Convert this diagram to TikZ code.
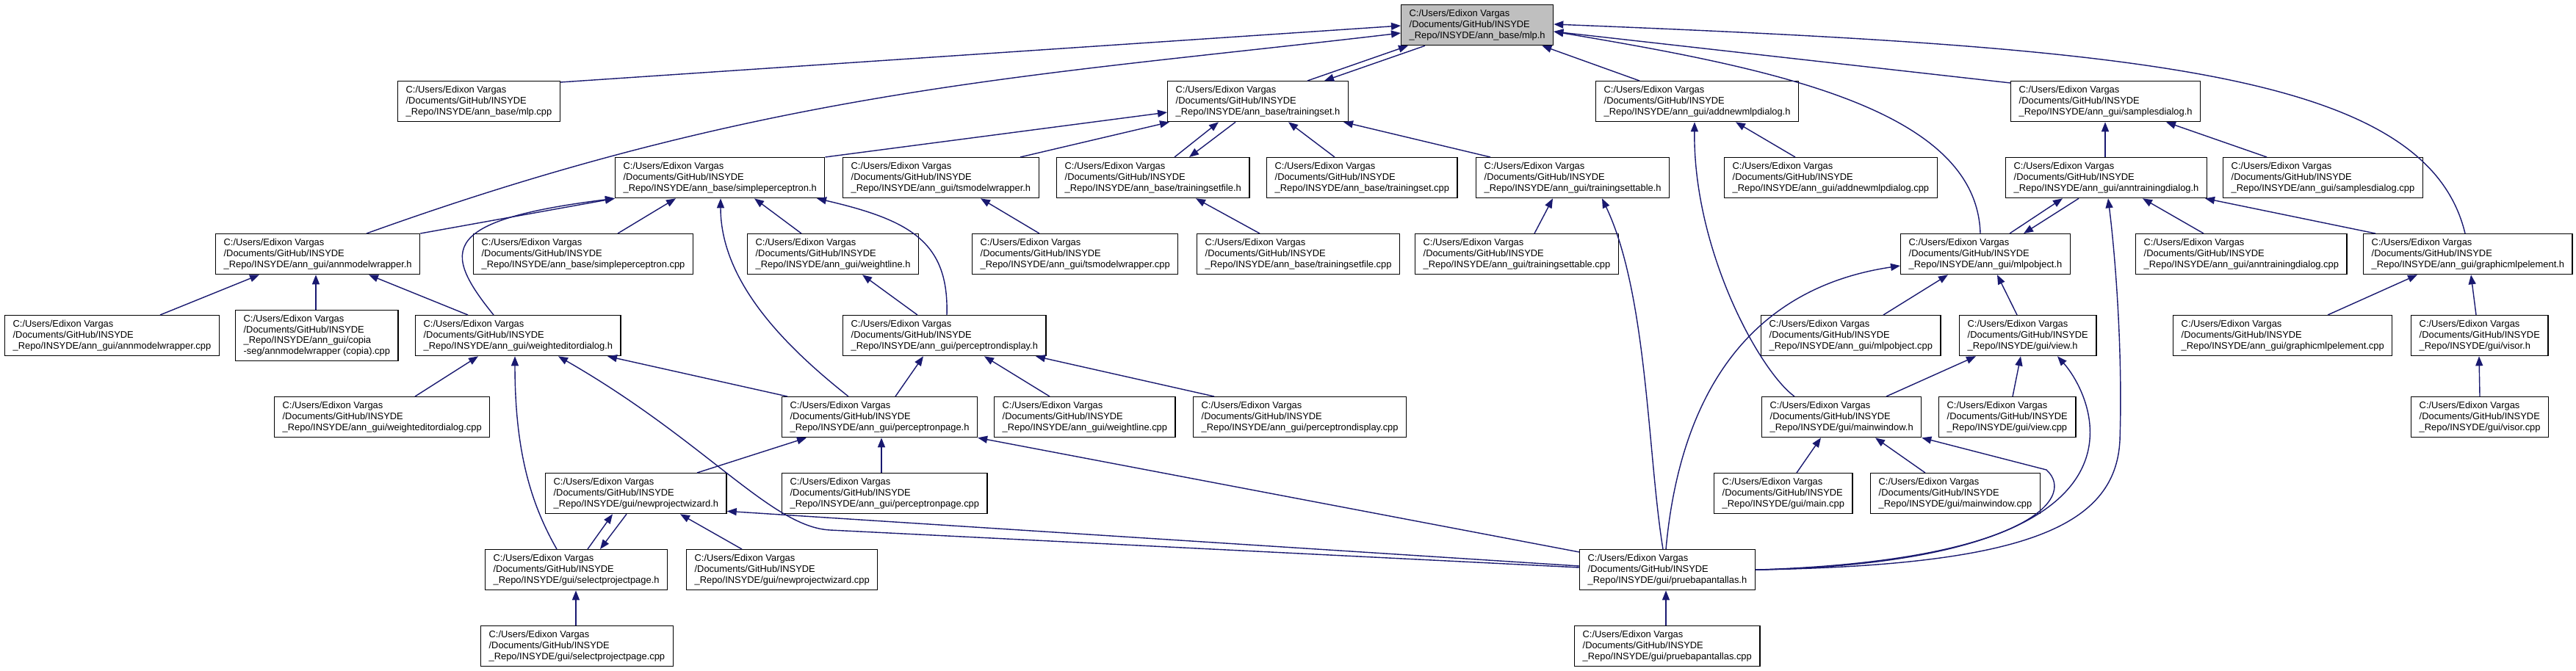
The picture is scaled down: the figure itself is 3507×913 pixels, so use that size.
\documentclass[tikz,border=0pt]{standalone}
\usepackage{fontspec}
\setmainfont{Liberation Sans}
\usetikzlibrary{arrows.meta}
\definecolor{edgec}{HTML}{191970}
\definecolor{nodegray}{HTML}{BFBFBF}
\newcommand\ipath{C:/Users/Edixon~Vargas\\/Documents/GitHub/INSYDE\\\_Repo/INSYDE/}
\newcommand\fnode[4][]{\node[fbox,#1] (#2) at (#3) {#4};}
\tikzset{
  fbox/.style={draw=black, line width=1.3pt, anchor=north west, align=left,
    inner xsep=11pt, inner ysep=0pt, minimum height=55pt, fill=white,
    font=\fontsize{12.9}{14.8}\selectfont, text=black},
  inc/.style={draw=edgec, line width=1.4pt, -{Triangle[length=13pt,width=10pt]}}
}
\begin{document}
\begin{tikzpicture}[x=1pt,y=-1pt]
\path[use as bounding box, fill=white] (0,0) rectangle (3507,913);
% row 0
\fnode[fill=nodegray]{mlph}{1907,6}{\ipath ann\_base/mlp.h}
% row 1
\fnode{mlpcpp}{541,110}{\ipath ann\_base/mlp.cpp}
\fnode{tseth}{1589,110}{\ipath ann\_base/trainingset.h}
\fnode{addnewh}{2172,110}{\ipath ann\_gui/addnewmlpdialog.h}
\fnode{samplesh}{2737,110}{\ipath ann\_gui/samplesdialog.h}
% row 2
\fnode{simplep}{837,214}{\ipath ann\_base/simpleperceptron.h}
\fnode{tsmwh}{1147,214}{\ipath ann\_gui/tsmodelwrapper.h}
\fnode{tsfileh}{1438,214}{\ipath ann\_base/trainingsetfile.h}
\fnode{tscpp}{1724,214}{\ipath ann\_base/trainingset.cpp}
\fnode{tstableh}{2009,214}{\ipath ann\_gui/trainingsettable.h}
\fnode{addnewcpp}{2347,214}{\ipath ann\_gui/addnewmlpdialog.cpp}
\fnode{anntrh}{2730,214}{\ipath ann\_gui/anntrainingdialog.h}
\fnode{samplescpp}{3026,214}{\ipath ann\_gui/samplesdialog.cpp}
% row 3
\fnode{annmwh}{293,318}{\ipath ann\_gui/annmodelwrapper.h}
\fnode{spcpp}{644,318}{\ipath ann\_base/simpleperceptron.cpp}
\fnode{wlineh}{1017,318}{\ipath ann\_gui/weightline.h}
\fnode{tsmwcpp}{1323,318}{\ipath ann\_gui/tsmodelwrapper.cpp}
\fnode{tsfilecpp}{1629,318}{\ipath ann\_base/trainingsetfile.cpp}
\fnode{tstablecpp}{1926,318}{\ipath ann\_gui/trainingsettable.cpp}
\fnode{mlpobjh}{2587,318}{\ipath ann\_gui/mlpobject.h}
\fnode{anntrcpp}{2907,318}{\ipath ann\_gui/anntrainingdialog.cpp}
\fnode{graphh}{3217,318}{\ipath ann\_gui/graphicmlpelement.h}
% row 4
\fnode{annmwcpp}{6,429}{\ipath ann\_gui/annmodelwrapper.cpp}
\fnode[minimum height=69pt]{copia}{320,422}{\ipath ann\_gui/copia\\-seg/annmodelwrapper~(copia).cpp}
\fnode{wedh}{565,429}{\ipath ann\_gui/weighteditordialog.h}
\fnode{pdisph}{1147,429}{\ipath ann\_gui/perceptrondisplay.h}
\fnode{mlpobjcpp}{2397,429}{\ipath ann\_gui/mlpobject.cpp}
\fnode{viewh}{2667,429}{\ipath gui/view.h}
\fnode{graphcpp}{2958,429}{\ipath ann\_gui/graphicmlpelement.cpp}
\fnode{visorh}{3282,429}{\ipath gui/visor.h}
% row 5
\fnode{wedcpp}{373,540}{\ipath ann\_gui/weighteditordialog.cpp}
\fnode{ppageh}{1064,540}{\ipath ann\_gui/perceptronpage.h}
\fnode{wlinecpp}{1353,540}{\ipath ann\_gui/weightline.cpp}
\fnode{pdispcpp}{1624,540}{\ipath ann\_gui/perceptrondisplay.cpp}
\fnode{mainwindowh}{2398,540}{\ipath gui/mainwindow.h}
\fnode{viewcpp}{2639,540}{\ipath gui/view.cpp}
\fnode{visorcpp}{3282,540}{\ipath gui/visor.cpp}
% row 6
\fnode{npwh}{742,644}{\ipath gui/newprojectwizard.h}
\fnode{ppagecpp}{1064,644}{\ipath ann\_gui/perceptronpage.cpp}
\fnode{maincpp}{2333,644}{\ipath gui/main.cpp}
\fnode{mainwindowcpp}{2546,644}{\ipath gui/mainwindow.cpp}
% row 7
\fnode{spph}{660,748}{\ipath gui/selectprojectpage.h}
\fnode{npwcpp}{934,748}{\ipath gui/newprojectwizard.cpp}
\fnode{pruebah}{2150,748}{\ipath gui/pruebapantallas.h}
% row 8
\fnode{sppcpp}{654,852}{\ipath gui/selectprojectpage.cpp}
\fnode{pruebacpp}{2143,852}{\ipath gui/pruebapantallas.cpp}

% ---- edges to mlp.h
\draw[inc] ([yshift=-2]mlpcpp.north east) -- ([yshift=-29]mlph.north west);
\draw[inc] ([xshift=206]annmwh.north west) .. controls (1049,120) and (1407,104) .. ([yshift=-39]mlph.north west);
\draw[inc] ([xshift=191]tseth.north west) -- ([xshift=10]mlph.south west);
\draw[inc] ([xshift=33]mlph.south west) -- ([xshift=214]tseth.north west);
\draw[inc] ([xshift=60]addnewh.north west) -- ([xshift=-16]mlph.south east);
\draw[inc] ([yshift=-3]samplesh.north west) -- ([yshift=-37]mlph.north east);
\draw[inc] ([xshift=109]mlpobjh.north west) .. controls (2691,148) and (2413,93) .. ([yshift=-37]mlph.north east);
\draw[inc] ([xshift=139]graphh.north west) .. controls (3303,98) and (2913,65) .. ([yshift=-27]mlph.north east);
% ---- trainingset.h
\draw[inc] (simplep.north east) -- ([yshift=-43]tseth.north west);
\draw[inc] ([xshift=242]tsmwh.north west) -- ([xshift=3]tseth.south west);
\draw[inc] ([xshift=161]tsfileh.north west) -- ([xshift=70]tseth.south west);
\draw[inc] ([xshift=93]tseth.south west) -- ([xshift=181]tsfileh.north west);
\draw[inc] ([xshift=93]tscpp.north west) -- ([xshift=165]tseth.south west);
\draw[inc] ([xshift=20]tstableh.north west) -- ([xshift=240]tseth.south west);
% ---- addnew, samples
\draw[inc] ([xshift=97]addnewcpp.north west) -- ([xshift=191]addnewh.south west);
\draw[inc] ([xshift=136]anntrh.north west) -- ([xshift=129]samplesh.south west);
\draw[inc] ([xshift=60]samplescpp.north west) -- ([xshift=212]samplesh.south west);
% ---- simpleperceptron.h
\draw[inc] ([xshift=197]spcpp.north west) -- ([xshift=83]simplep.south west);
\draw[inc] (annmwh.north east) -- (simplep.south west);
\draw[inc] ([xshift=107]wedh.north west) .. controls (600,340) and (600,300) .. (simplep.south west);
\draw[inc] ([xshift=74]wlineh.north west) -- ([xshift=190]simplep.south west);
\draw[inc] ([xshift=91]ppageh.north west) .. controls (1077,478) and (981,388) .. ([xshift=144]simplep.south west);
\draw[inc] ([xshift=142]pdisph.north west) .. controls (1292,330) and (1240,300) .. ([xshift=275]simplep.south west);
% ---- annmodelwrapper.h
\draw[inc] ([xshift=212]annmwcpp.north west) -- ([xshift=60]annmwh.south west);
\draw[inc] ([xshift=110]copia.north west) -- ([xshift=137]annmwh.south west);
\draw[inc] ([xshift=72]wedh.north west) -- ([xshift=209]annmwh.south west);
% ---- weighteditordialog.h
\draw[inc] ([xshift=192]wedcpp.north west) -- ([xshift=86]wedh.south west);
\draw[inc] ([xshift=98]spph.north west) .. controls (725,690) and (701,620) .. ([xshift=136]wedh.south west);
\draw[inc] ([yshift=-25]pruebah.north west) -- (1130,722) .. controls (1050,718) and (960,600) .. ([xshift=195]wedh.south west);
\draw[inc] ([xshift=8]ppageh.north west) -- ([xshift=262]wedh.south west);
% ---- perceptrondisplay.h, weightline.h
\draw[inc] ([xshift=155]ppageh.north west) -- ([xshift=110]pdisph.south west);
\draw[inc] ([xshift=76]wlinecpp.north west) -- ([xshift=193]pdisph.south west);
\draw[inc] ([xshift=29]pdispcpp.north west) -- ([xshift=263]pdisph.south west);
\draw[inc] ([xshift=102]pdisph.north west) -- ([xshift=157]wlineh.south west);
% ---- perceptronpage.h
\draw[inc] ([xshift=136]ppagecpp.north west) -- ([xshift=136]ppageh.south west);
\draw[inc] ([xshift=207]npwh.north west) -- ([xshift=34]ppageh.south west);
\draw[inc] ([yshift=-4]pruebah.north west) -- (ppageh.south east);
% ---- newprojectwizard.h, selectprojectpage.h
\draw[inc] ([xshift=140]spph.north west) -- ([xshift=92]npwh.south west);
\draw[inc] ([xshift=111]npwh.south west) -- ([xshift=157]spph.north west);
\draw[inc] ([xshift=76]npwcpp.north west) -- ([xshift=184]npwh.south west);
\draw[inc] ([yshift=-23]pruebah.north west) -- ([yshift=4]npwh.south east);
\draw[inc] ([xshift=130]sppcpp.north west) -- ([xshift=124]spph.south west);
% ---- pruebapantallas.h
\draw[inc] ([xshift=125]pruebacpp.north west) -- ([xshift=118]pruebah.south west);
\draw[inc] ([xshift=114]pruebah.north west) .. controls (2243,620) and (2243,400) .. ([xshift=172]tstableh.south west);
\draw[inc] ([xshift=118]pruebah.north west) .. controls (2285,560) and (2365,395) .. ([yshift=-44]mlpobjh.north west);
\draw[inc] (pruebah.east) .. controls (2750,765) and (2830,680) .. (2786,640) -- (mainwindowh.south east);
\draw[inc] (pruebah.east) .. controls (2960,765) and (2850,540) .. ([xshift=134]viewh.south west);
\draw[inc] (pruebah.east) .. controls (2750,770) and (2880,720) .. (2886,600) .. controls (2890,480) and (2880,350) .. ([xshift=140]anntrh.south west);
% ---- mainwindow.h
\draw[inc] ([xshift=45]mainwindowh.north west) .. controls (2395,505) and (2305,340) .. ([xshift=135]addnewh.south west);
\draw[inc] ([xshift=170]mainwindowh.north west) -- ([xshift=23]viewh.south west);
\draw[inc] ([xshift=113]maincpp.north west) -- ([xshift=81]mainwindowh.south west);
\draw[inc] ([xshift=75]mainwindowcpp.north west) -- ([xshift=155]mainwindowh.south west);
\draw[inc] ([xshift=101]viewcpp.north west) -- ([xshift=84]viewh.south west);
% ---- anntrainingdialog.h, mlpobject.h
\draw[inc] ([xshift=149]mlpobjh.north west) -- ([xshift=78]anntrh.south west);
\draw[inc] ([xshift=100]anntrh.south west) -- ([xshift=168]mlpobjh.north west);
\draw[inc] ([xshift=93]anntrcpp.north west) -- ([xshift=187]anntrh.south west);
\draw[inc] ([xshift=17]graphh.north west) -- ([xshift=-3]anntrh.south east);
\draw[inc] ([xshift=167]mlpobjcpp.north west) -- ([xshift=65]mlpobjh.south west);
\draw[inc] ([xshift=79]viewh.north west) -- ([xshift=132]mlpobjh.south west);
% ---- graphicmlpelement.h, visor.h
\draw[inc] ([xshift=211]graphcpp.north west) -- ([xshift=74]graphh.south west);
\draw[inc] ([xshift=89]visorh.north west) -- ([xshift=147]graphh.south west);
\draw[inc] ([xshift=94]visorcpp.north west) -- ([xshift=93]visorh.south west);
% ---- model wrapper, files
\draw[inc] ([xshift=92]tsmwcpp.north west) -- ([xshift=188]tsmwh.south west);
\draw[inc] ([xshift=86]tsfilecpp.north west) -- ([xshift=190]tsfileh.south west);
\draw[inc] ([xshift=163]tstablecpp.north west) -- ([xshift=105]tstableh.south west);
\end{tikzpicture}
\end{document}
